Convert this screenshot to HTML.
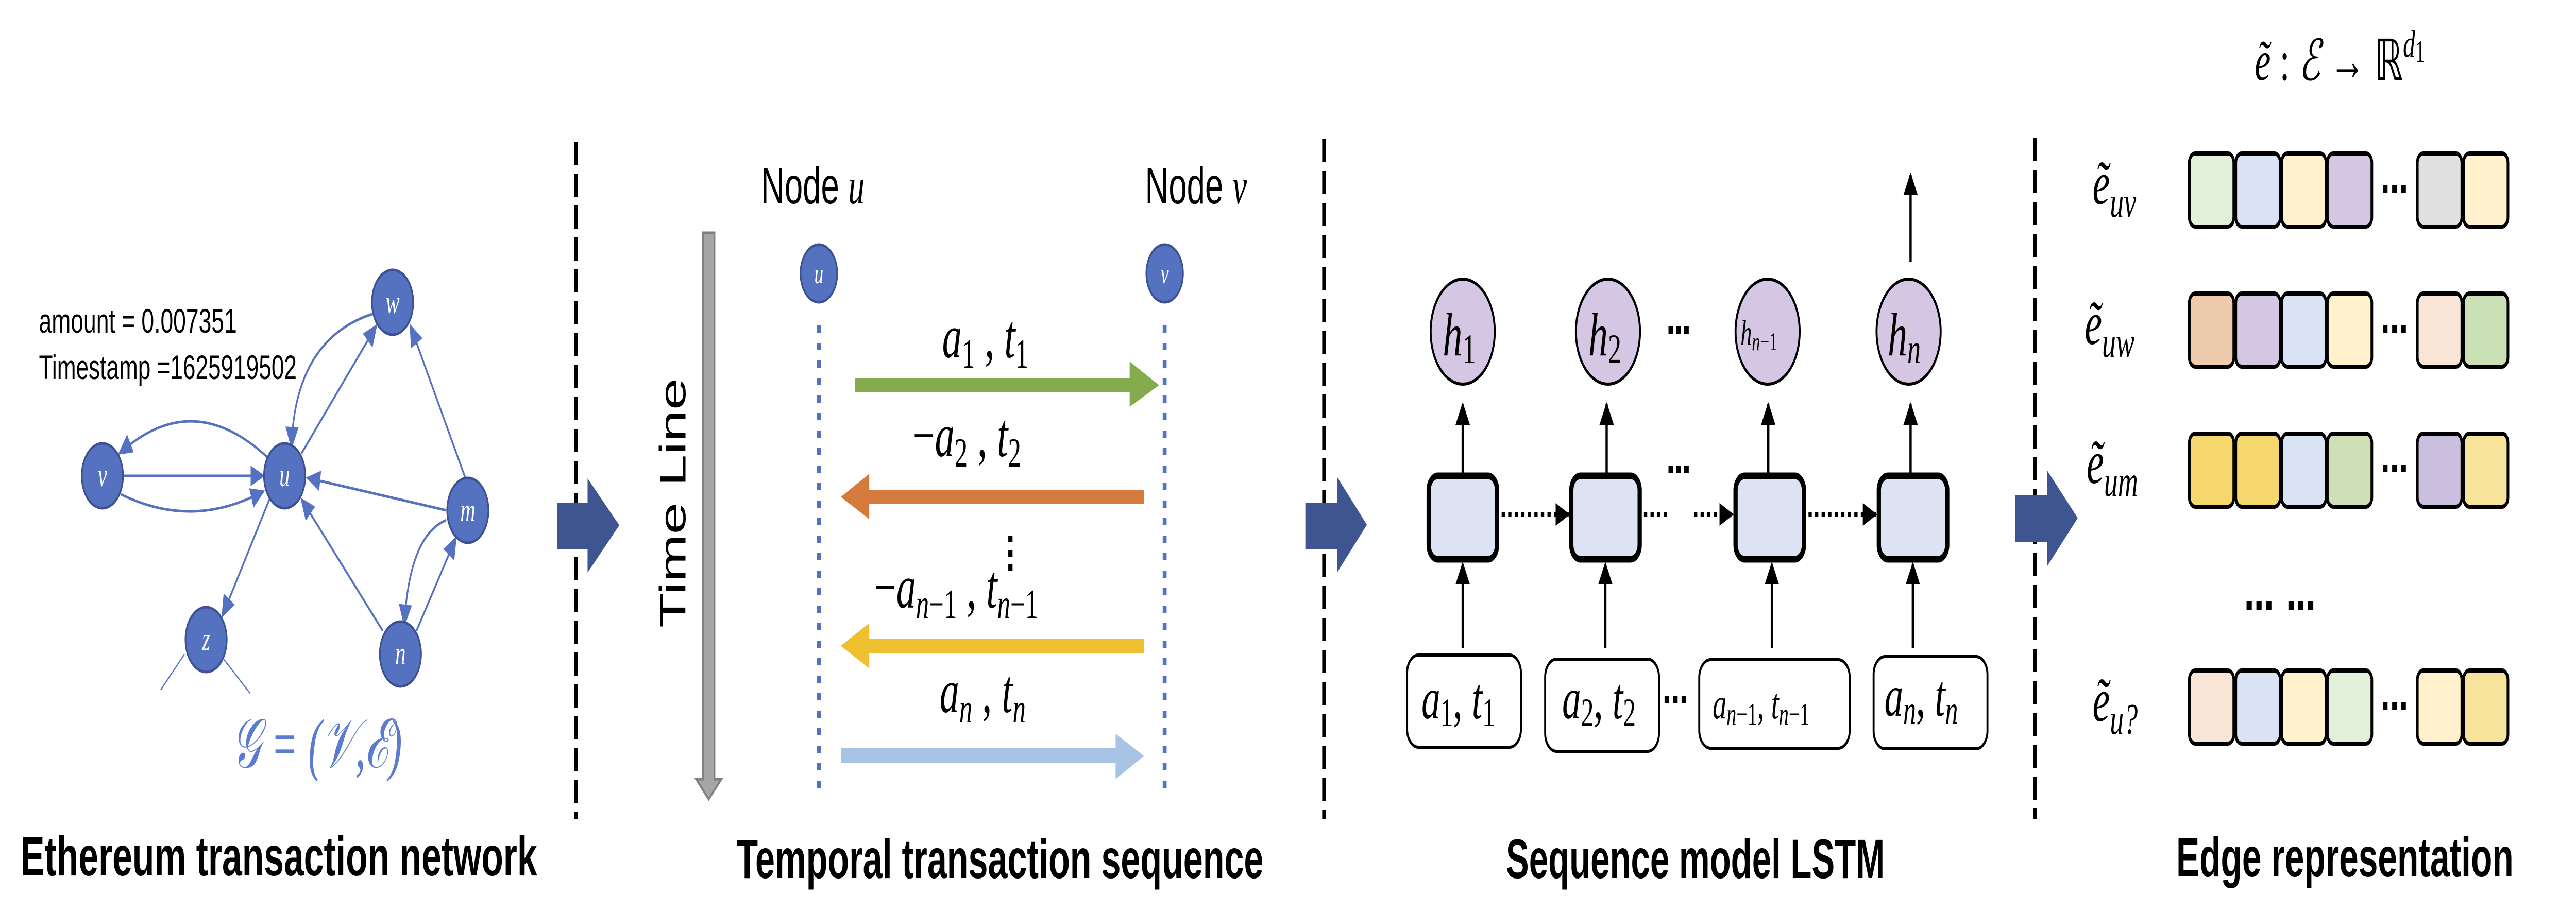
<!DOCTYPE html>
<html><head><meta charset="utf-8"><style>html,body{margin:0;padding:0;background:#fff;width:100%;height:100%;overflow:hidden}svg{display:block;width:100vw;height:100vh}</style></head>
<body>
<svg viewBox="0 0 7874 1771" preserveAspectRatio="none" xmlns="http://www.w3.org/2000/svg" overflow="hidden">
<defs>
<marker id="ab" markerUnits="userSpaceOnUse" markerWidth="44" markerHeight="40" refX="40" refY="20" orient="auto"><path d="M0,0 L44,20 L0,40 z" fill="#5572c0"/></marker>
<marker id="ak" markerUnits="userSpaceOnUse" markerWidth="44" markerHeight="44" refX="40" refY="22" orient="auto"><path d="M0,0 L44,22 L0,44 z" fill="#000"/></marker>
</defs>
<g font-family="Liberation Sans, sans-serif">
<g stroke="#000" stroke-width="11" stroke-dasharray="45 17">
<line x1="1760" y1="275" x2="1760" y2="1590"/>
<line x1="4047" y1="270" x2="4047" y2="1590"/>
<line x1="6221" y1="268" x2="6221" y2="1590"/>
</g>
<g fill="#3f5592">
<path d="M1703,977 L1796,977 L1796,929 L1893,1020 L1796,1112 L1796,1067 L1703,1067 z"/>
<path d="M3990,977 L4087,977 L4087,926 L4178,1019 L4087,1112 L4087,1067 L3990,1067 z"/>
<path d="M6160,961 L6258,961 L6258,914 L6351,1006 L6258,1099 L6258,1052 L6160,1052 z"/>
</g>

<g stroke="#5572c0" stroke-width="5" fill="none" marker-end="url(#ab)">
<path d="M824,892 Q590,750 364,881"/>
<path d="M370,960 Q590,1029 806,954"/>
<line x1="373" y1="924" x2="806" y2="924"/>
<line x1="921" y1="881" x2="1151" y2="632"/>
<path d="M1137,610 Q900,660 891,869"/>
<line x1="1424" y1="931" x2="1254" y2="632"/>
<line x1="1364" y1="991" x2="939" y2="928"/>
<line x1="1170" y1="1225" x2="921" y2="969"/>
<line x1="824" y1="969" x2="679" y2="1197"/>
<line x1="1273" y1="1225" x2="1394" y2="1044"/>
<path d="M1364,1010 Q1250,1040 1236,1214"/>
</g>
<g stroke="#5572c0" stroke-width="3">
<line x1="564" y1="1270" x2="491" y2="1340"/>
<line x1="685" y1="1281" x2="764" y2="1346"/>
</g>
<g fill="#5572c0" stroke="#3d5192" stroke-width="5">
<circle cx="1200" cy="587" r="63"/><circle cx="313" cy="924" r="63"/><circle cx="870" cy="924" r="63"/>
<circle cx="1430" cy="991" r="63"/><circle cx="630" cy="1242" r="63"/><circle cx="1224" cy="1270" r="63"/>
</g>
<g fill="#fff" font-family="Liberation Serif, serif" font-style="italic" font-size="64" text-anchor="middle">
<text x="1200" y="608">w</text><text x="313" y="944">v</text><text x="870" y="944">u</text>
<text x="1430" y="1012">m</text><text x="630" y="1262">z</text><text x="1224" y="1290">n</text>
</g>
<text x="119" y="646" font-size="66" textLength="605" lengthAdjust="spacingAndGlyphs">amount = 0.007351</text>
<text x="119" y="736" font-size="66" textLength="788" lengthAdjust="spacingAndGlyphs">Timestamp =1625919502</text>
<text x="709" y="1490" font-family="Liberation Serif, serif" font-style="italic" font-size="135" fill="#5b7bd0" textLength="520" lengthAdjust="spacingAndGlyphs">𝒢 = (𝒱,ℰ)</text>
<text x="63" y="1700" font-size="108" font-weight="bold" textLength="1579" lengthAdjust="spacingAndGlyphs">Ethereum transaction network</text>

<text x="2326" y="395" font-size="100">Node <tspan font-family="Liberation Serif, serif" font-style="italic">u</tspan></text>
<text x="3500" y="395" font-size="100">Node <tspan font-family="Liberation Serif, serif" font-style="italic">v</tspan></text>
<g fill="#5572c0" stroke="#3d5192" stroke-width="5"><circle cx="2503" cy="531" r="56"/><circle cx="3560" cy="531" r="56"/></g>
<g fill="#fff" font-family="Liberation Serif, serif" font-style="italic" font-size="56" text-anchor="middle"><text x="2503" y="550">u</text><text x="3560" y="550">v</text></g>
<g stroke="#5572c0" stroke-width="12" stroke-dasharray="14 20"><line x1="2503" y1="632" x2="2503" y2="1547"/><line x1="3560" y1="632" x2="3560" y2="1547"/></g>
<path d="M2149,452 L2184,452 L2184,1513 L2205,1513 L2166,1552 L2128,1513 L2149,1513 z" fill="#a6a6a6" stroke="#7f7f7f" stroke-width="5"/>
<text transform="translate(2095,1219) rotate(-90)" font-size="112" textLength="485" lengthAdjust="spacingAndGlyphs">Time Line</text>
<path d="M2614,734 L3453,734 L3453,702 L3543,748 L3453,790 L3453,762 L2614,762 z" fill="#84ac4f"/>
<path d="M3497,951 L2657,951 L2657,920 L2570,965 L2657,1008 L2657,979 L3497,979 z" fill="#d57b3b"/>
<path d="M3497,1240 L2657,1240 L2657,1210 L2570,1254 L2657,1298 L2657,1268 L3497,1268 z" fill="#eebf2f"/>
<path d="M2570,1453 L3410,1453 L3410,1425 L3497,1468 L3410,1513 L3410,1482 L2570,1482 z" fill="#a8c4e4"/>
<g font-family="Liberation Serif, serif" font-style="italic" font-size="120">
<text x="2880" y="694">a<tspan font-style="normal" font-size="80" dy="20">1</tspan><tspan dy="-20" font-style="normal">  ,  </tspan>t<tspan font-style="normal" font-size="80" dy="20">1</tspan></text>
<text x="2790" y="886"><tspan font-style="normal">−</tspan>a<tspan font-style="normal" font-size="80" dy="20">2</tspan><tspan dy="-20" font-style="normal">  ,  </tspan>t<tspan font-style="normal" font-size="80" dy="20">2</tspan></text>
<text x="2672" y="1180"><tspan font-style="normal">−</tspan>a<tspan font-size="80" dy="20">n<tspan font-style="normal">−1</tspan></tspan><tspan dy="-20" font-style="normal">  ,  </tspan>t<tspan font-size="80" dy="20">n<tspan font-style="normal">−1</tspan></tspan></text>
<text x="2872" y="1383">a<tspan font-size="80" dy="20">n</tspan><tspan dy="-20" font-style="normal">  ,  </tspan>t<tspan font-size="80" dy="20">n</tspan></text>
</g>
<g fill="#000"><rect x="3082" y="1040" width="13" height="13"/><rect x="3082" y="1068" width="13" height="13"/><rect x="3082" y="1096" width="13" height="13"/></g>
<text x="2251" y="1705" font-size="108" font-weight="bold" textLength="1611" lengthAdjust="spacingAndGlyphs">Temporal transaction sequence</text>

<g stroke="#000" stroke-width="7" fill="none">
<line x1="4471" y1="1259" x2="4471" y2="1095" marker-end="url(#ak)"/>
<line x1="4907" y1="1259" x2="4907" y2="1095" marker-end="url(#ak)"/>
<line x1="5416" y1="1259" x2="5416" y2="1095" marker-end="url(#ak)"/>
<line x1="5847" y1="1259" x2="5847" y2="1095" marker-end="url(#ak)"/>
<line x1="4471" y1="920" x2="4471" y2="785" marker-end="url(#ak)"/>
<line x1="4911" y1="920" x2="4911" y2="785" marker-end="url(#ak)"/>
<line x1="5405" y1="920" x2="5405" y2="785" marker-end="url(#ak)"/>
<line x1="5840" y1="920" x2="5840" y2="785" marker-end="url(#ak)"/>
<line x1="5840" y1="508" x2="5840" y2="339" marker-end="url(#ak)"/>
</g>
<g stroke="#000" stroke-width="9" stroke-dasharray="10 10" fill="none">
<line x1="4590" y1="999" x2="4795" y2="999" marker-end="url(#ak)"/>
<line x1="5025" y1="999" x2="5098" y2="999"/>
<line x1="5178" y1="999" x2="5296" y2="999" marker-end="url(#ak)"/>
<line x1="5528" y1="999" x2="5734" y2="999" marker-end="url(#ak)"/>
</g>
<g fill="#dde3f2" stroke="#000" stroke-width="13">
<rect x="4367" y="924" width="209" height="162" rx="28"/>
<rect x="4803" y="924" width="209" height="162" rx="28"/>
<rect x="5305" y="924" width="209" height="162" rx="28"/>
<rect x="5743" y="924" width="209" height="162" rx="28"/>
</g>
<g fill="#d5c6e3" stroke="#000" stroke-width="6">
<ellipse cx="4471" cy="644" rx="98" ry="102"/><ellipse cx="4915" cy="644" rx="98" ry="102"/>
<ellipse cx="5403" cy="644" rx="98" ry="102"/><ellipse cx="5834" cy="644" rx="98" ry="102"/>
</g>
<g fill="#fff" stroke="#000" stroke-width="6">
<rect x="4301" y="1272" width="348" height="179" rx="35"/><rect x="4723" y="1280" width="348" height="179" rx="35"/>
<rect x="5194" y="1281" width="460" height="172" rx="35"/><rect x="5727" y="1275" width="348" height="179" rx="35"/>
</g>
<g font-family="Liberation Serif, serif" font-style="italic" font-size="120">
<text x="4410" y="690">h<tspan font-style="normal" font-size="82" dy="15">1</tspan></text>
<text x="4855" y="690">h<tspan font-style="normal" font-size="82" dy="15">2</tspan></text>
<text x="5320" y="670" font-size="70">h<tspan font-size="50" dy="10">n<tspan font-style="normal">−1</tspan></tspan></text>
<text x="5770" y="690">h<tspan font-size="82" dy="15">n</tspan></text>
<text x="4345" y="1395" font-size="115">a<tspan font-style="normal" font-size="78" dy="15">1</tspan><tspan dy="-15" font-style="normal">, </tspan>t<tspan font-style="normal" font-size="78" dy="15">1</tspan></text>
<text x="4775" y="1395" font-size="115">a<tspan font-style="normal" font-size="78" dy="15">2</tspan><tspan dy="-15" font-style="normal">, </tspan>t<tspan font-style="normal" font-size="78" dy="15">2</tspan></text>
<text x="5235" y="1395" font-size="85">a<tspan font-size="60" dy="12">n<tspan font-style="normal">−1</tspan></tspan><tspan dy="-12" font-style="normal">, </tspan>t<tspan font-size="60" dy="12">n<tspan font-style="normal">−1</tspan></tspan></text>
<text x="5760" y="1390" font-size="115">a<tspan font-size="78" dy="15">n</tspan><tspan dy="-15" font-style="normal">, </tspan>t<tspan font-size="78" dy="15">n</tspan></text>
</g>
<g fill="#000">
<rect x="5100" y="634" width="14" height="14"/><rect x="5124" y="634" width="14" height="14"/><rect x="5148" y="634" width="14" height="14"/>
<rect x="5100" y="904" width="14" height="14"/><rect x="5124" y="904" width="14" height="14"/><rect x="5148" y="904" width="14" height="14"/>
<rect x="5088" y="1351" width="14" height="14"/><rect x="5114" y="1351" width="14" height="14"/><rect x="5140" y="1351" width="14" height="14"/>
</g>
<text x="4603" y="1705" font-size="108" font-weight="bold" textLength="1158" lengthAdjust="spacingAndGlyphs">Sequence model LSTM</text>

<text x="6892" y="155" font-family="Liberation Serif, serif" font-size="110"><tspan font-style="italic">ẽ</tspan> : <tspan font-style="italic">ℰ</tspan> → ℝ<tspan font-style="italic" font-size="75" dy="-45">d</tspan><tspan font-size="60" dy="10">1</tspan></text>
<g font-family="Liberation Serif, serif" font-style="italic" font-size="120">
<text x="6396" y="396">ẽ<tspan font-size="85" dy="25">uv</tspan></text>
<text x="6372" y="668">ẽ<tspan font-size="85" dy="25">uw</tspan></text>
<text x="6378" y="938">ẽ<tspan font-size="85" dy="25">um</tspan></text>
<text x="6396" y="1400">ẽ<tspan font-size="85" dy="25">u?</tspan></text>
</g>
<g stroke="#000" stroke-width="8">
<rect x="6692" y="298" width="136" height="142" rx="18" fill="#e2efda"/><rect x="6834" y="298" width="136" height="142" rx="18" fill="#dae3f3"/><rect x="6974" y="298" width="136" height="142" rx="18" fill="#fff2cc"/><rect x="7114" y="298" width="136" height="142" rx="18" fill="#d5c6e3"/><rect x="7389" y="298" width="136" height="142" rx="18" fill="#e0e0e0"/><rect x="7530" y="298" width="136" height="142" rx="18" fill="#fff2cc"/>
<rect x="6692" y="570" width="136" height="142" rx="18" fill="#eecbac"/><rect x="6834" y="570" width="136" height="142" rx="18" fill="#d5c6e3"/><rect x="6974" y="570" width="136" height="142" rx="18" fill="#dae3f3"/><rect x="7114" y="570" width="136" height="142" rx="18" fill="#fff2cc"/><rect x="7389" y="570" width="136" height="142" rx="18" fill="#f8e5d6"/><rect x="7530" y="570" width="136" height="142" rx="18" fill="#cce0b5"/>
<rect x="6692" y="842" width="136" height="142" rx="18" fill="#f5d76e"/><rect x="6834" y="842" width="136" height="142" rx="18" fill="#f5d76e"/><rect x="6974" y="842" width="136" height="142" rx="18" fill="#dae3f3"/><rect x="7114" y="842" width="136" height="142" rx="18" fill="#cfe0b6"/><rect x="7389" y="842" width="136" height="142" rx="18" fill="#cbbfe0"/><rect x="7530" y="842" width="136" height="142" rx="18" fill="#f7e39a"/>
<rect x="6692" y="1302" width="136" height="142" rx="18" fill="#f8e5d6"/><rect x="6834" y="1302" width="136" height="142" rx="18" fill="#dae3f3"/><rect x="6974" y="1302" width="136" height="142" rx="18" fill="#fff2cc"/><rect x="7114" y="1302" width="136" height="142" rx="18" fill="#e2efda"/><rect x="7389" y="1302" width="136" height="142" rx="18" fill="#fff2cc"/><rect x="7530" y="1302" width="136" height="142" rx="18" fill="#f7e39a"/>
</g>
<g fill="#000">
<rect x="7284" y="360" width="14" height="14"/><rect x="7312" y="360" width="14" height="14"/><rect x="7340" y="360" width="14" height="14"/>
<rect x="7284" y="632" width="14" height="14"/><rect x="7312" y="632" width="14" height="14"/><rect x="7340" y="632" width="14" height="14"/>
<rect x="7284" y="903" width="14" height="14"/><rect x="7312" y="903" width="14" height="14"/><rect x="7340" y="903" width="14" height="14"/>
<rect x="7284" y="1364" width="14" height="14"/><rect x="7312" y="1364" width="14" height="14"/><rect x="7340" y="1364" width="14" height="14"/>
<rect x="6867" y="1168" width="16" height="16"/><rect x="6897" y="1168" width="16" height="16"/><rect x="6927" y="1168" width="16" height="16"/>
<rect x="6995" y="1168" width="16" height="16"/><rect x="7025" y="1168" width="16" height="16"/><rect x="7055" y="1168" width="16" height="16"/>
</g>
<text x="6652" y="1702" font-size="108" font-weight="bold" textLength="1031" lengthAdjust="spacingAndGlyphs">Edge representation</text>
</g>
</svg>
</body></html>
